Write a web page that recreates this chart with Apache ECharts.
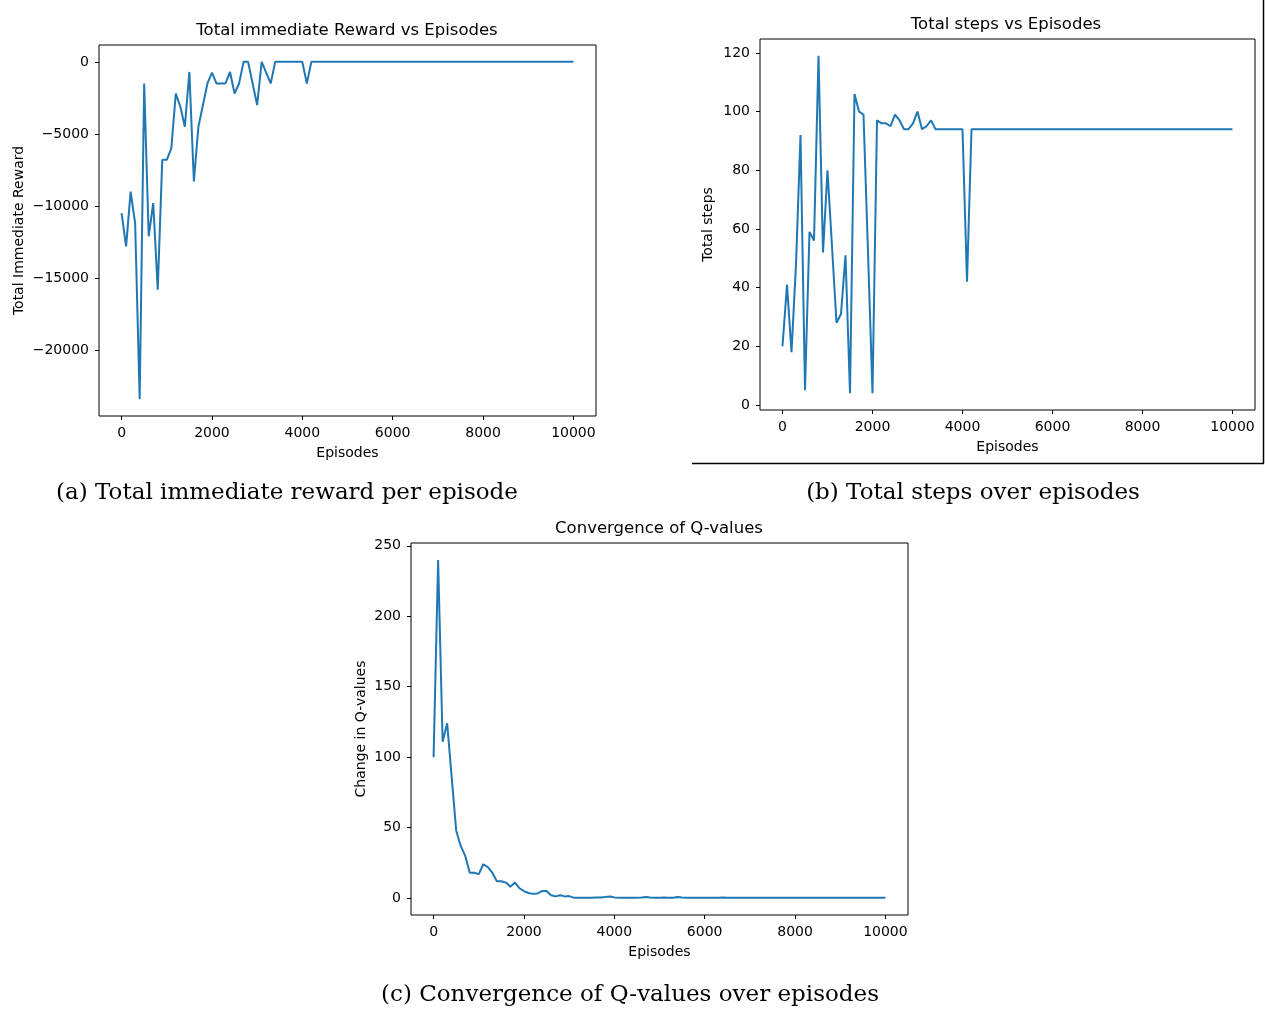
<!DOCTYPE html>
<html>
<head>
<meta charset="utf-8">
<script src="https://cdn.jsdelivr.net/npm/echarts@6/dist/echarts.min.js"></script>
<style>
html,body{margin:0;padding:0;background:#fff;}
#chart{width:1265px;height:1010px;}
</style>
</head>
<body>
<div id="chart"></div>
<script>
const episodes = [0,100,200,300,400,500,600,700,800,900,
  1000,1100,1200,1300,1400,1500,1600,1700,1800,1900,
  2000,2100,2200,2300,2400,2500,2600,2700,2800,2900,
  3000,3100,3200,3300,3400,3500,3600,3700,3800,3900,
  4000,4100,4200,4300,4400,4500,4600,4700,4800,4900,
  5000,5100,5200,5300,5400,5500,5600,5700,5800,5900,
  6000,6100,6200,6300,6400,6500,6600,6700,6800,6900,
  7000,7100,7200,7300,7400,7500,7600,7700,7800,7900,
  8000,8100,8200,8300,8400,8500,8600,8700,8800,8900,
  9000,9100,9200,9300,9400,9500,9600,9700,9800,9900,
  10000];

const rewardValues = [-10500,-12800,-9000,-11200,-23400,-1500,-12100,-9800,-15800,-6800,
  -6800,-6000,-2200,-3100,-4500,-700,-8300,-4500,-3000,-1500,
  -750,-1500,-1500,-1500,-700,-2200,-1500,0,0,-1500,
  -3000,0,-750,-1500,0,0,0,0,0,0,
  0,-1500,0,0,0,0,0,0,0,0,
  0,0,0,0,0,0,0,0,0,0,
  0,0,0,0,0,0,0,0,0,0,
  0,0,0,0,0,0,0,0,0,0,
  0,0,0,0,0,0,0,0,0,0,
  0,0,0,0,0,0,0,0,0,0,
  0];

const stepValues = [20,41,18,48,92,5,59,56,119,52,
  80,54,28,31,51,4,106,100,99,52,
  4,97,96,96,95,99,97,94,94,96,
  100,94,95,97,94,94,94,94,94,94,
  94,42,94,94,94,94,94,94,94,94,
  94,94,94,94,94,94,94,94,94,94,
  94,94,94,94,94,94,94,94,94,94,
  94,94,94,94,94,94,94,94,94,94,
  94,94,94,94,94,94,94,94,94,94,
  94,94,94,94,94,94,94,94,94,94,
  94];

const qChangeValues = [100,240,111,124,86,48,37,30,18,18,
  17,24,22,18,12,12,11,8,11,7,
  5,3.6,3,3.3,5,5,2,1.2,2,1.2,
  1.4,0.3,0.3,0.3,0.3,0.3,0.5,0.5,0.8,1.2,
  0.5,0.3,0.3,0.3,0.3,0.3,0.5,0.8,0.5,0.3,
  0.3,0.5,0.3,0.3,0.8,0.5,0.3,0.3,0.3,0.3,
  0.3,0.3,0.3,0.3,0.5,0.3,0.2,0.2,0.2,0.2,
  0.2,0.2,0.2,0.2,0.2,0.2,0.2,0.2,0.2,0.2,
  0.2,0.2,0.2,0.2,0.2,0.2,0.2,0.2,0.2,0.2,
  0.2,0.2,0.2,0.2,0.2,0.2,0.2,0.2,0.2,0.2,
  0.2];

const xTicks = [0,2000,4000,6000,8000,10000];
const rewardTicks = [-20000,-15000,-10000,-5000,0];
const stepTicks = [0,20,40,60,80,100,120];
const qTicks = [0,50,100,150,200,250];

const titles = ['Total immediate Reward vs Episodes','Total steps vs Episodes','Convergence of Q-values'];
const yNames = ['Total Immediate Reward','Total steps','Change in Q-values'];
const captions = ['(a) Total immediate reward per episode','(b) Total steps over episodes','(c) Convergence of Q-values over episodes'];

const FONT = 'DejaVu Sans';
const LINE = '#1f77b4';
const fmt = v => String(v).replace('-', '\u2212');

function pairs(ys){ return episodes.map((e,i)=>[e, ys[i]]); }

function xAxis(idx){
  return {
    type:'value', gridIndex:idx, min:-500, max:10500, position:'bottom',
    name:'Episodes', nameLocation:'middle', nameGap:30,
    nameTextStyle:{fontFamily:FONT,fontSize:14,color:'#000'},
    axisLine:{show:false,onZero:false},
    axisTick:{show:true,length:4,inside:false,customValues:xTicks,lineStyle:{color:'#000',width:1}},
    axisLabel:{customValues:xTicks,margin:10,fontFamily:FONT,fontSize:14,color:'#000',formatter:fmt},
    splitLine:{show:false}
  };
}
function yAxis(idx,min,max,ticks,gap){
  return {
    type:'value', gridIndex:idx, min:min, max:max, position:'left',
    name:yNames[idx], nameLocation:'middle', nameGap:gap, nameRotate:90,
    nameTextStyle:{fontFamily:FONT,fontSize:14,color:'#000'},
    axisLine:{show:false,onZero:false},
    axisTick:{show:true,length:4,inside:false,customValues:ticks,lineStyle:{color:'#000',width:1}},
    axisLabel:{customValues:ticks,margin:10,fontFamily:FONT,fontSize:14,color:'#000',formatter:fmt},
    splitLine:{show:false}
  };
}

const chart = echarts.init(document.getElementById('chart'), null, {renderer:'canvas'});
chart.setOption({
  animation:false,
  backgroundColor:'#fff',
  grid:[
    {left:99, top:45, width:497, height:371, show:true, borderColor:'#000', borderWidth:1, backgroundColor:'transparent'},
    {left:760, top:39, width:495, height:371, show:true, borderColor:'#000', borderWidth:1, backgroundColor:'transparent'},
    {left:411, top:543, width:497, height:372, show:true, borderColor:'#000', borderWidth:1, backgroundColor:'transparent'}
  ],
  xAxis:[xAxis(0), xAxis(1), xAxis(2)],
  yAxis:[
    yAxis(0,-24570,1170,rewardTicks,73),
    yAxis(1,-1.75,124.75,stepTicks,45),
    yAxis(2,-12,252,qTicks,43)
  ],
  series:[
    {type:'line', xAxisIndex:0, yAxisIndex:0, data:pairs(rewardValues), showSymbol:false, lineStyle:{color:LINE,width:2}, itemStyle:{color:LINE}},
    {type:'line', xAxisIndex:1, yAxisIndex:1, data:pairs(stepValues), showSymbol:false, lineStyle:{color:LINE,width:2}, itemStyle:{color:LINE}},
    {type:'line', xAxisIndex:2, yAxisIndex:2, data:pairs(qChangeValues), showSymbol:false, lineStyle:{color:LINE,width:2}, itemStyle:{color:LINE}}
  ],
  graphic:[
    {type:'text', x:347, y:31, style:{text:titles[0], font:'16.5px "DejaVu Sans"', fill:'#000', align:'center', verticalAlign:'middle'}},
    {type:'text', x:1006, y:25, style:{text:titles[1], font:'16.5px "DejaVu Sans"', fill:'#000', align:'center', verticalAlign:'middle'}},
    {type:'text', x:659, y:529, style:{text:titles[2], font:'16.5px "DejaVu Sans"', fill:'#000', align:'center', verticalAlign:'middle'}},
    {type:'text', x:287, y:493, style:{text:captions[0], font:'23px "DejaVu Serif"', fill:'#000', align:'center', verticalAlign:'middle'}},
    {type:'text', x:973, y:493, style:{text:captions[1], font:'23px "DejaVu Serif"', fill:'#000', align:'center', verticalAlign:'middle'}},
    {type:'text', x:630, y:995, style:{text:captions[2], font:'23px "DejaVu Serif"', fill:'#000', align:'center', verticalAlign:'middle'}},
    {type:'line', shape:{x1:692, y1:463.5, x2:1264, y2:463.5}, style:{stroke:'#000', lineWidth:1.5}},
    {type:'line', shape:{x1:1263.5, y1:0, x2:1263.5, y2:463.5}, style:{stroke:'#000', lineWidth:1.5}}
  ]
});
</script>
</body>
</html>
